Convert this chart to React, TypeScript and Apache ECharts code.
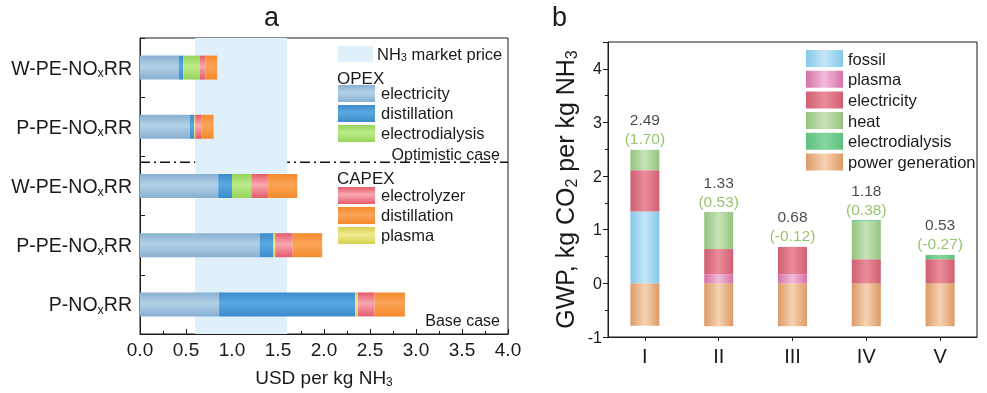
import React, { useEffect, useRef } from 'react';
import * as echarts from 'echarts';

// ---------- Panel a: cost ----------
const costCategories = ['W-PE-NOxRR (optimistic)', 'P-PE-NOxRR (optimistic)', 'W-PE-NOxRR', 'P-PE-NOxRR', 'P-NOxRR'];
const costLabels = ['W-PE-NO{s|x}RR', 'P-PE-NO{s|x}RR', 'W-PE-NO{s|x}RR', 'P-PE-NO{s|x}RR', 'P-NO{s|x}RR'];
const opexElectricity = [0.42, 0.54, 0.85, 1.3, 0.86];
const opexDistillation = [0.05, 0.05, 0.15, 0.15, 1.48];
const opexElectrodialysis = [0.18, 0, 0.21, 0, 0];
const capexPlasma = [0, 0.01, 0, 0.02, 0.03];
const capexElectrolyzer = [0.06, 0.07, 0.18, 0.19, 0.18];
const capexDistillation = [0.13, 0.13, 0.32, 0.32, 0.33];
const marketPrice = [0.6, 1.6];
const usdRange = [0, 4];
const usdInterval = 0.5;

// ---------- Panel b: GWP ----------
const gwpCategories = ['I', 'II', 'III', 'IV', 'V'];
const gwpPowerGeneration = [-0.79, -0.8, -0.8, -0.8, -0.8];
const gwpFossil = [1.34, 0, 0, 0, 0];
const gwpPlasma = [0, 0.17, 0.17, 0, 0];
const gwpElectricity = [0.77, 0.47, 0.51, 0.45, 0.45];
const gwpHeat = [0.38, 0.69, 0, 0.7, 0];
const gwpElectrodialysis = [0, 0, 0, 0.03, 0.08];
const gwpTotal = [2.49, 1.33, 0.68, 1.18, 0.53];
const gwpNet = [1.7, 0.53, -0.12, 0.38, -0.27];
const gwpRange = [-1, 4.5];
const gwpInterval = 1;

const FONT = 'Liberation Sans, Arial, Helvetica, sans-serif';
const INK = '#1a1a1a';

const vg = (edge: string, mid: string) =>
  new echarts.graphic.LinearGradient(0, 0, 0, 1, [
    { offset: 0, color: edge },
    { offset: 0.45, color: mid },
    { offset: 1, color: edge },
  ]);
const hg = (edge: string, mid: string) =>
  new echarts.graphic.LinearGradient(0, 0, 1, 0, [
    { offset: 0, color: edge },
    { offset: 0.5, color: mid },
    { offset: 1, color: edge },
  ]);

const A = {
  elec: ['#88b0d1', '#b2d1e8'],
  dist: ['#3d8ccb', '#5aa8df'],
  ed: ['#96d45a', '#bdec8a'],
  plasma: ['#d8d050', '#f0ec90'],
  lyz: ['#e65a6c', '#f8a8b0'],
  cdist: ['#f48a2c', '#fca458'],
};
const B = {
  fossil: ['#86c8ea', '#c4e6f7'],
  plasma: ['#d672a6', '#f2bcd8'],
  elec: ['#d05f72', '#ea8c9a'],
  heat: ['#94c47f', '#c8e3b9'],
  ed: ['#5fc07f', '#86d6a0'],
  power: ['#dc9a66', '#f6d2b2'],
};

const subRich = (size: number) => ({
  s: { fontSize: size, fontFamily: FONT, color: INK, verticalAlign: 'bottom', lineHeight: size * 0.8 },
});

export default function App() {
  const ref = useRef<HTMLDivElement>(null);
  useEffect(() => {
    if (!ref.current) return;
    const chart = echarts.init(ref.current, undefined, { renderer: 'svg' });

    const barA = (name: string, data: number[], c: string[]) => ({
      name,
      type: 'bar',
      xAxisIndex: 0,
      yAxisIndex: 0,
      stack: 'cost',
      barWidth: 24,
      data,
      itemStyle: { color: vg(c[0], c[1]) },
      emphasis: { disabled: true },
    });
    const barB = (name: string, data: number[], c: string[]) => ({
      name,
      type: 'bar',
      xAxisIndex: 1,
      yAxisIndex: 1,
      stack: 'gwp',
      barWidth: 29,
      data,
      itemStyle: { color: hg(c[0], c[1]) },
      emphasis: { disabled: true },
    });

    const legendText = (x: number, y: number, text: string, size = 16.5) => ({
      type: 'text',
      x,
      y,
      style: {
        text,
        fontSize: size,
        fontFamily: FONT,
        fill: INK,
        verticalAlign: 'middle',
        rich: subRich(11),
      },
    });
    const swatch = (y: number, c: string[]) => ({
      type: 'rect',
      shape: { x: 338, y, width: 37, height: 17 },
      style: { fill: vg(c[0], c[1]) },
    });

    const graphics: any[] = [
      { type: 'text', x: 264, y: 3, style: { text: 'a', fontSize: 27, fontFamily: FONT, fill: INK } },
      { type: 'text', x: 552, y: 3, style: { text: 'b', fontSize: 27, fontFamily: FONT, fill: INK } },
      { type: 'rect', shape: { x: 338, y: 46, width: 35, height: 16 }, style: { fill: '#dff0fb' } },
      legendText(377, 54, 'NH{s|3} market price'),
      legendText(337, 78, 'OPEX', 17),
      swatch(85, A.elec),
      legendText(381, 93, 'electricity'),
      swatch(105, A.dist),
      legendText(381, 113, 'distillation'),
      swatch(125, A.ed),
      legendText(381, 133, 'electrodialysis'),
      {
        type: 'text',
        x: 500,
        y: 154,
        style: { text: 'Optimistic case', fontSize: 16, fontFamily: FONT, fill: INK, align: 'right', verticalAlign: 'middle' },
      },
      legendText(337, 178, 'CAPEX', 17),
      swatch(187, A.lyz),
      legendText(381, 195, 'electrolyzer'),
      swatch(207, A.cdist),
      legendText(381, 215, 'distillation'),
      swatch(227, A.plasma),
      legendText(381, 235, 'plasma'),
      {
        type: 'text',
        x: 500,
        y: 320,
        style: { text: 'Base case', fontSize: 16, fontFamily: FONT, fill: INK, align: 'right', verticalAlign: 'middle' },
      },
    ];

    const axisLineStyle = { color: INK, width: 1 };

    chart.setOption({
      animation: false,
      textStyle: { fontFamily: FONT },
      grid: [
        { left: 140, top: 38, width: 368, height: 297, show: true, borderColor: INK, borderWidth: 1, backgroundColor: 'transparent' },
        { left: 608, top: 42, width: 369, height: 295, show: true, borderColor: INK, borderWidth: 1, backgroundColor: 'transparent' },
      ],
      legend: {
        data: ['fossil', 'plasma', 'electricity', 'heat', 'electrodialysis', 'power generation'],
        orient: 'vertical',
        left: 801,
        top: 45,
        itemWidth: 37,
        itemHeight: 17,
        itemGap: 3.7,
        icon: 'rect',
        selectedMode: false,
        textStyle: { fontSize: 16.5, color: INK, fontFamily: FONT, lineHeight: 17 },
      },
      xAxis: [
        {
          gridIndex: 0,
          type: 'value',
          min: usdRange[0],
          max: usdRange[1],
          interval: usdInterval,
          axisLine: { show: true, onZero: false, lineStyle: axisLineStyle },
          axisTick: { show: true, inside: true, length: 5, lineStyle: axisLineStyle },
          minorTick: { show: true, splitNumber: 2, length: 3, lineStyle: axisLineStyle },
          splitLine: { show: false },
          axisLabel: { fontSize: 19, color: INK, margin: 6, formatter: (v: number) => v.toFixed(1) },
          name: 'USD per kg NH{s|3}',
          nameLocation: 'middle',
          nameGap: 32,
          nameTextStyle: { fontSize: 19, color: INK, fontFamily: FONT, lineHeight: 22, rich: subRich(12) },
        },
        {
          gridIndex: 1,
          type: 'category',
          data: gwpCategories,
          axisLine: { show: true, onZero: false, lineStyle: axisLineStyle },
          axisTick: { show: true, inside: false, alignWithLabel: true, length: 4, lineStyle: axisLineStyle },
          axisLabel: { fontSize: 20, color: INK, margin: 9 },
        },
      ],
      yAxis: [
        {
          gridIndex: 0,
          type: 'category',
          inverse: true,
          data: costCategories,
          axisLine: { show: true, onZero: false, lineStyle: axisLineStyle },
          axisTick: { show: true, inside: true, length: 5, lineStyle: axisLineStyle },
          axisLabel: {
            fontSize: 19.5,
            color: INK,
            margin: 8,
            lineHeight: 24,
            formatter: (_v: string, i: number) => costLabels[i],
            rich: subRich(12.5),
          },
        },
        {
          gridIndex: 1,
          type: 'value',
          min: gwpRange[0],
          max: gwpRange[1],
          interval: gwpInterval,
          axisLine: { show: true, onZero: false, lineStyle: axisLineStyle },
          axisTick: { show: true, inside: false, length: 5, lineStyle: axisLineStyle },
          minorTick: { show: true, splitNumber: 2, length: 3, lineStyle: axisLineStyle },
          splitLine: { show: false },
          axisLabel: { fontSize: 16, color: INK, margin: 6, showMaxLabel: false },
          name: 'GWP, kg CO{s|2} per kg NH{s|3}',
          nameLocation: 'middle',
          nameRotate: 90,
          nameGap: 29,
          nameTextStyle: { fontSize: 25, color: INK, fontFamily: FONT, lineHeight: 28, rich: subRich(16) },
        },
      ],
      series: [
        {
          ...barA('OPEX electricity', opexElectricity, A.elec),
          markArea: {
            silent: true,
            itemStyle: { color: '#dff0fb' },
            data: [[{ xAxis: marketPrice[0] }, { xAxis: marketPrice[1] }]],
          },
        },
        barA('OPEX distillation', opexDistillation, A.dist),
        barA('OPEX electrodialysis', opexElectrodialysis, A.ed),
        barA('CAPEX plasma', capexPlasma, A.plasma),
        barA('CAPEX electrolyzer', capexElectrolyzer, A.lyz),
        barA('CAPEX distillation', capexDistillation, A.cdist),
        barB('power generation', gwpPowerGeneration, B.power),
        barB('fossil', gwpFossil, B.fossil),
        barB('plasma', gwpPlasma, B.plasma),
        barB('electricity', gwpElectricity, B.elec),
        barB('heat', gwpHeat, B.heat),
        barB('electrodialysis', gwpElectrodialysis, B.ed),
        {
          name: 'labels',
          type: 'scatter',
          xAxisIndex: 1,
          yAxisIndex: 1,
          data: gwpTotal,
          symbolSize: 1,
          silent: true,
          itemStyle: { color: 'rgba(0,0,0,0)' },
          label: {
            show: true,
            position: 'top',
            distance: 1,
            formatter: (p: any) =>
              `{t|${gwpTotal[p.dataIndex].toFixed(2)}}\n{n|(${gwpNet[p.dataIndex].toFixed(2)})}`,
            rich: {
              t: { fontSize: 15.5, color: INK, fontFamily: FONT, lineHeight: 19 },
              n: { fontSize: 15.5, color: '#7ab648', fontFamily: FONT, lineHeight: 19 },
            },
          },
        },
      ],
      graphic: graphics,
    });

    // dash-dot divider between optimistic and base cases, placed through the axis scales
    const yOpt = chart.convertToPixel({ yAxisIndex: 0 }, costCategories[1]) as number;
    const yBase = chart.convertToPixel({ yAxisIndex: 0 }, costCategories[2]) as number;
    const xL = chart.convertToPixel({ xAxisIndex: 0 }, usdRange[0]) as number;
    const xR = chart.convertToPixel({ xAxisIndex: 0 }, usdRange[1]) as number;
    const yDiv = yOpt + 0.6 * (yBase - yOpt);
    chart.setOption({
      graphic: [
        ...graphics,
        {
          type: 'line',
          shape: { x1: xL, y1: yDiv, x2: xR, y2: yDiv },
          style: { stroke: '#111', lineWidth: 1.6, lineDash: [10, 4, 2, 4] },
        },
      ],
    });

    return () => chart.dispose();
  }, []);

  return <div ref={ref} style={{ position: 'fixed', left: 0, top: 0, width: 987, height: 393 }} />;
}
